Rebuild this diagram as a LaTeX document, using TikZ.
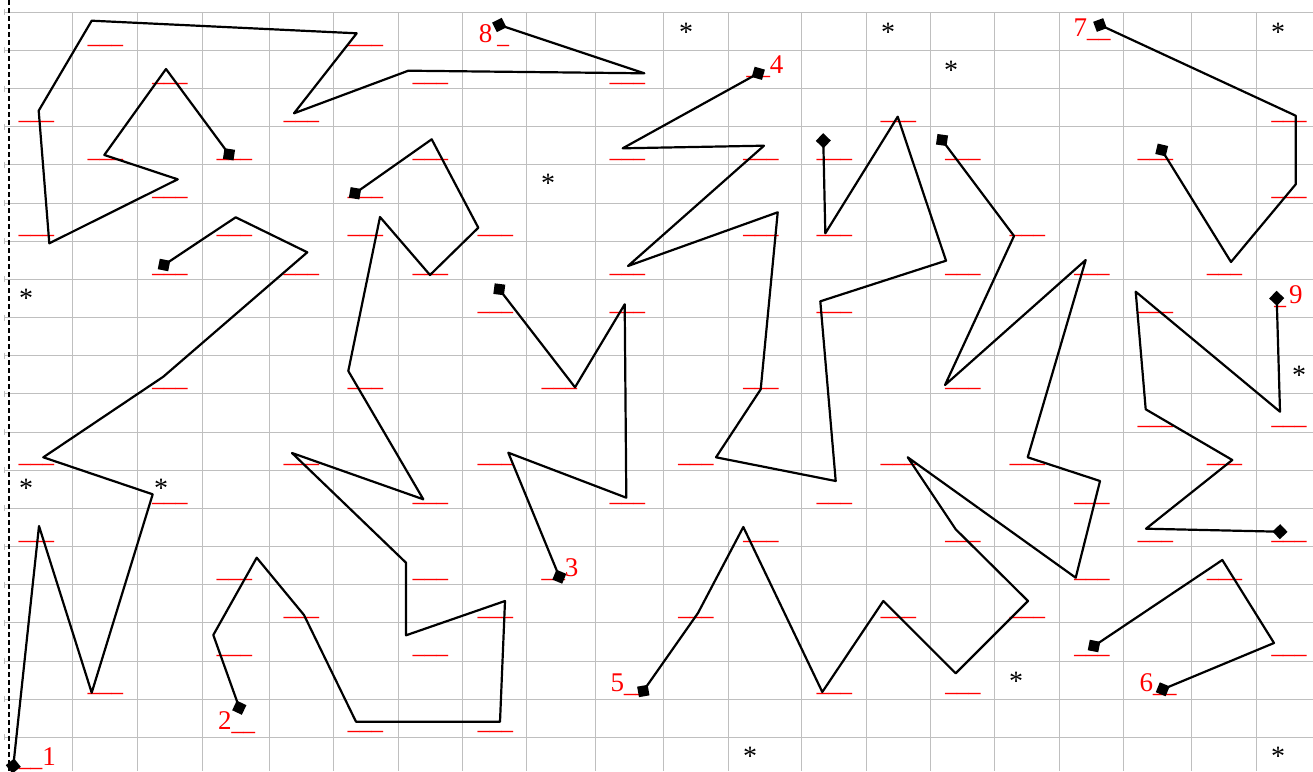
\documentclass[tikz,border=0pt]{standalone}
\usepackage{fontspec}
\setmainfont{Liberation Serif}
\newfontfamily\usfam{Liberation Sans}
\usetikzlibrary{shapes.geometric}
\newcommand\usz{\usfam\fontsize{21}{21}\selectfont}
\newcommand\dsz{\fontsize{27}{27}\selectfont}
\newcommand\ub{\textunderscore}
\definecolor{gridc}{RGB}{191,191,191}
\tikzset{
  gridl/.style={draw=gridc, line width=1pt},
  pl/.style={draw=black, line width=2.2pt, line join=round},
  mk/.style={diamond, fill=black, draw=none, inner sep=0pt, minimum width=16pt, minimum height=16pt, shape aspect=1},
  us/.style={anchor=base, inner sep=0pt, text=red, font=\usz},
  lbl/.style={anchor=base, inner sep=0pt, text=red},
  ast/.style={anchor=base, inner sep=0pt, text=black, font=\fontsize{28}{28}\selectfont}
}
\begin{document}
\begin{tikzpicture}[x=1pt,y=-1pt]
\useasboundingbox (0,0) rectangle (1313,771);
\fill[white] (0,0) rectangle (1313,771);
% grid
\foreach \k in {0,...,19} {
  \draw[gridl] (4,12.3+38.16*\k) -- (1313,12.3+38.16*\k);
  \draw[gridl] (4.5,12.3+38.16*\k-3) -- ++(0,6);
}
\foreach \x in {72.3,137.3,202.3,269.3,333.3,398.3,462.3,526.3,595.3,663.3,728.3,801.3,866.3,930.3,994,1059.3,1123.3,1191.3,1256.3}
  \draw[gridl] (\x,12.3) -- (\x,771);
\draw[black, line width=1.2pt, dash pattern=on 5pt off 3pt] (9,0) -- (9,771);
% red underscores
\foreach \c/\r in {1/0,5/0,
  2/1,6/1,9/1,
  0/2,4/2,13/2,19/2,
  1/3,3/3,6/3,9/3,11/3,12/3,14/3,17/3,
  2/4,5/4,19/4,
  0/5,3/5,5/5,7/5,11/5,12/5,15/5,
  2/6,4/6,6/6,9/6,14/6,16/6,18/6,
  7/7,9/7,12/7,17/7,
  2/9,5/9,8/9,11/9,14/9,
  17/10,19/10,
  0/11,4/11,7/11,10/11,13/11,15/11,18/11,
  2/12,6/12,9/12,12/12,16/12,
  0/13,11/13,14/13,17/13,19/13,
  3/14,6/14,16/14,18/14,
  4/15,7/15,10/15,13/15,15/15,
  3/16,6/16,16/16,19/16,
  1/17,12/17,14/17,
  5/18,7/18} {
  \pgfmathsetmacro\xx{{36.5,105.5,170,234.5,301.5,365.5,430.5,495.5,559.5,627.5,696,761,834.5,898.5,963,1027.5,1092,1155.5,1224.5,1289}[\c]}
  \pgfmathsetmacro\yy{42.1+38.16*\r}
  \node[us] (u\c-\r) at (\xx,\yy) {\ub\ub\ub};
}
% numbered labels
\node[lbl] (n1) at (37.5,765.6) {{\usz\ub\ub}{\dsz 1}};
\node[lbl] (n2) at (236.5,729.3) {{\dsz 2}{\usz\ub\ub}};
\node[lbl] (n3) at (560,576.3) {{\usz\ub\ub}{\dsz 3}};
\node[lbl] (n4) at (765,73.3) {{\usz\ub\ub}{\dsz 4}};
\node[lbl] (n5) at (629,691) {{\dsz 5}{\usz\ub\ub}};
\node[lbl] (n6) at (1158,691) {{\dsz 6}{\usz\ub\ub}};
\node[lbl] (n7) at (1092,36.6) {{\dsz 7}{\usz\ub\ub}};
\node[lbl] (n8) at (494,42.3) {{\dsz 8}\kern5pt{\usz\ub}};
\node[lbl] (n9) at (1288.5,303.3) {{\usz\ub}\kern3pt{\dsz 9}};
% asterisks
\node[ast] (a1) at (686,41.2) {*};
\node[ast] (a2) at (888,41.2) {*};
\node[ast] (a3) at (951,79.2) {*};
\node[ast] (a4) at (1278,41.2) {*};
\node[ast] (a5) at (548,192.2) {*};
\node[ast] (a6) at (26,307.2) {*};
\node[ast] (a7) at (26,497.2) {*};
\node[ast] (a8) at (161,497.8) {*};
\node[ast] (a9) at (1299,384.2) {*};
\node[ast] (a10) at (1016,690.2) {*};
\node[ast] (a11) at (750,765.2) {*};
\node[ast] (a12) at (1278,765.2) {*};
% polyline 8
\draw[pl] (229,154.3) -- node[mk,pos=0,sloped] (m8a) {} (166,69) -- (104.3,155) -- (177.7,179.3) -- (49.3,243.3) -- (38.7,110.7) -- (91.7,20.7) -- (356.7,33.3) -- (294,113.3) -- (408.3,70.7) -- (644.3,73.3) -- node[mk,pos=1,sloped] (m8b) {} (499.3,25);
% polyline 4
\draw[pl] (823.3,140.7) -- node[mk,pos=0,sloped] (m4a) {} (825.3,233.3) -- (897.7,116.7) -- (946,260.7) -- (820.3,301.3) -- (835.7,481) -- (716,457.3) -- (760.7,389.3) -- (777.7,212.3) -- (628,266) -- (764,145.7) -- (622.7,148.3) -- node[mk,pos=1,sloped] (m4b) {} (758.3,73.3);
% polyline 5
\draw[pl] (942,140) -- node[mk,pos=0,sloped] (m5a) {} (1014,236) -- (945,385) -- (1085.7,260) -- (1027.7,457.3) -- (1100,481) -- (1075.7,577.7) -- (907.7,457.3) -- (955.7,529.3) -- (1028,601) -- (955.7,673.3) -- (883.3,601) -- (822.3,692) -- (743.3,527) -- (698,613) -- node[mk,pos=1,sloped] (m5b) {} (643.3,691);
% polyline 7
\draw[pl] (1161.7,150) -- node[mk,pos=0,sloped] (m7a) {} (1231,262) -- (1295.7,184.3) -- (1295.7,115.7) -- node[mk,pos=1,sloped] (m7b) {} (1100,25);
% polyline 9
\draw[pl] (1280,531.7) -- node[mk,pos=0,sloped] (m9a) {} (1146,528.7) -- (1232.3,460) -- (1145.7,409.3) -- (1135.7,291.7) -- (1280,411.7) -- node[mk,pos=1,sloped] (m9b) {} (1276.7,298.3);
% polyline 6
\draw[pl] (1094,646) -- node[mk,pos=0,sloped] (m6a) {} (1222.3,560) -- (1274,643) -- node[mk,pos=1,sloped] (m6b) {} (1162.7,689.3);
% polyline 3
\draw[pl] (499.3,289.3) -- node[mk,pos=0,sloped] (m3a) {} (575,387.3) -- (624.7,304.3) -- (626.3,497.7) -- (508.3,452.7) -- node[mk,pos=1,sloped] (m3b) {} (559.3,576.7);
% polyline 2
\draw[pl] (355,193.3) -- node[mk,pos=0,sloped] (m2a) {} (431.7,139.3) -- (478.3,227.7) -- (430,275) -- (380,217) -- (348.3,371) -- (423.3,499.3) -- (292,453) -- (406,562.7) -- (406,635.3) -- (505,601) -- (500,721.7) -- (356,721.7) -- (304,615) -- (256.7,557.7) -- (213.3,635) -- node[mk,pos=1,sloped] (m2b) {} (239.3,707.7);
% polyline 1
\draw[pl] (164,265) -- node[mk,pos=0,sloped] (m1a) {} (235.7,217.3) -- (307.3,252.3) -- (163.3,376.7) -- (43.3,457.3) -- (152.7,494.3) -- (91.7,692.7) -- (39,526) -- node[mk,pos=1,sloped] (m1b) {} (13.3,766);
\end{tikzpicture}
\end{document}
